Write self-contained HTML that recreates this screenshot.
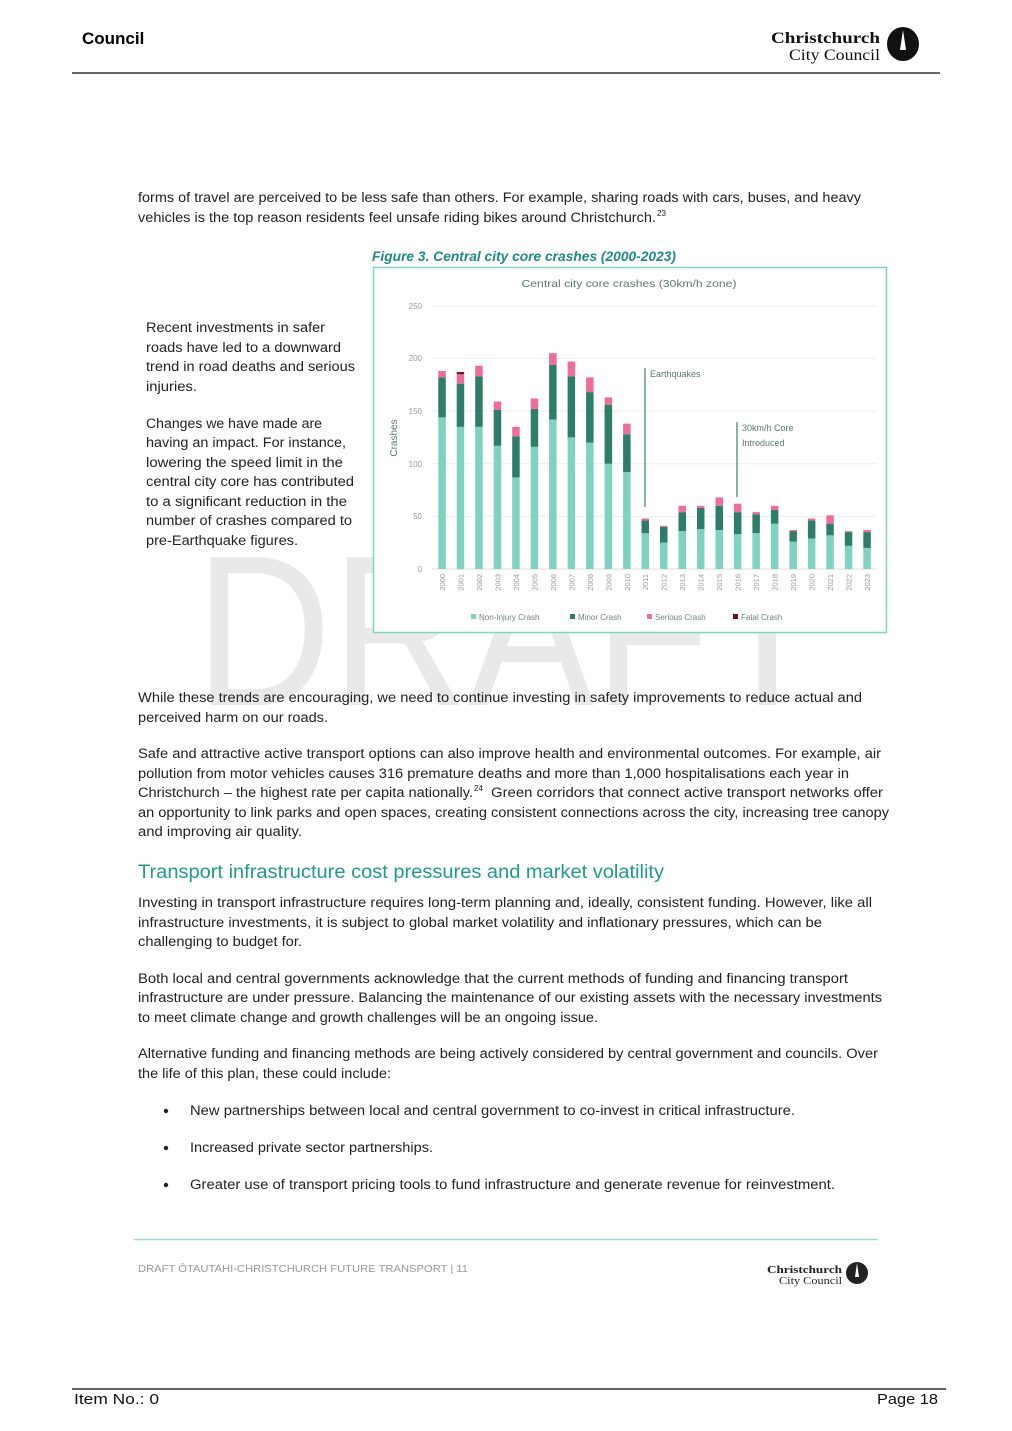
<!DOCTYPE html>
<html><head><meta charset="utf-8"><style>
html,body{margin:0;padding:0;background:#fff;}
svg{display:block;}
text{font-family:"Liberation Sans",sans-serif;}
.b{font-size:13.5px;fill:#222;}
</style></head><body>
<svg width="1012" height="1431" viewBox="0 0 1012 1431" xmlns="http://www.w3.org/2000/svg">
<!-- header -->
<text x="82" y="44" font-size="17" font-weight="bold" fill="#000">Council</text>
<text x="880" y="43" font-size="16" font-weight="bold" style="font-family:'Liberation Serif',serif" text-anchor="end" fill="#111" textLength="109" lengthAdjust="spacingAndGlyphs">Christchurch</text>
<text x="880" y="60" font-size="16" style="font-family:'Liberation Serif',serif" text-anchor="end" fill="#111" textLength="91" lengthAdjust="spacingAndGlyphs">City Council</text>
<ellipse cx="903" cy="44" rx="16" ry="17" fill="#111"/>
<path d="M903 30 L906 50 L900 50 Z" fill="#fff"/>
<line x1="72" y1="73" x2="940" y2="73" stroke="#333" stroke-width="1.5"/>

<!-- watermark -->
<text x="195" y="705" font-size="215" fill="#e9e9e9" textLength="630" lengthAdjust="spacingAndGlyphs">DRAFT</text>

<!-- body text top -->
<text class="b" x="138" y="202" textLength="723" lengthAdjust="spacingAndGlyphs">forms of travel are perceived to be less safe than others. For example, sharing roads with cars, buses, and heavy</text>
<text class="b" x="138" y="222" textLength="518" lengthAdjust="spacingAndGlyphs">vehicles is the top reason residents feel unsafe riding bikes around Christchurch.</text>
<text x="657" y="216" font-size="8" fill="#222">23</text>

<text class="b" x="146" y="332" textLength="179" lengthAdjust="spacingAndGlyphs">Recent investments in safer</text>
<text class="b" x="146" y="352" textLength="195" lengthAdjust="spacingAndGlyphs">roads have led to a downward</text>
<text class="b" x="146" y="371" textLength="209" lengthAdjust="spacingAndGlyphs">trend in road deaths and serious</text>
<text class="b" x="146" y="391" textLength="51" lengthAdjust="spacingAndGlyphs">injuries.</text>
<text class="b" x="146" y="428" textLength="176" lengthAdjust="spacingAndGlyphs">Changes we have made are</text>
<text class="b" x="146" y="447" textLength="200" lengthAdjust="spacingAndGlyphs">having an impact. For instance,</text>
<text class="b" x="146" y="467" textLength="197" lengthAdjust="spacingAndGlyphs">lowering the speed limit in the</text>
<text class="b" x="146" y="486" textLength="208" lengthAdjust="spacingAndGlyphs">central city core has contributed</text>
<text class="b" x="146" y="506" textLength="201" lengthAdjust="spacingAndGlyphs">to a significant reduction in the</text>
<text class="b" x="146" y="525" textLength="206" lengthAdjust="spacingAndGlyphs">number of crashes compared to</text>
<text class="b" x="146" y="545" textLength="152" lengthAdjust="spacingAndGlyphs">pre-Earthquake figures.</text>

<!-- chart -->
<text x="372" y="261" font-size="13.5" font-style="italic" font-weight="bold" fill="#1f8a84" textLength="304" lengthAdjust="spacingAndGlyphs">Figure 3. Central city core crashes (2000-2023)</text>
<rect x="373.5" y="267.5" width="513" height="365" fill="#fff" stroke="#7fd3c9" stroke-width="1.5"/>
<text x="629" y="287" font-size="10.5" fill="#5c7a72" text-anchor="middle" textLength="215" lengthAdjust="spacingAndGlyphs">Central city core crashes (30km/h zone)</text>
<g stroke="#eeeeee" stroke-width="1">
<line x1="432" y1="306" x2="876" y2="306"/>
<line x1="432" y1="358.4" x2="876" y2="358.4"/>
<line x1="432" y1="411" x2="876" y2="411"/>
<line x1="432" y1="463.7" x2="876" y2="463.7"/>
<line x1="432" y1="516.4" x2="876" y2="516.4"/>
<line x1="432" y1="569" x2="876" y2="569" stroke="#ddd"/>
</g>
<g font-size="8" fill="#999" text-anchor="end">
<text x="422" y="309">250</text><text x="422" y="361">200</text><text x="422" y="414">150</text>
<text x="422" y="467">100</text><text x="422" y="519">50</text><text x="422" y="572">0</text>
</g>
<text transform="translate(397,438) rotate(-90)" font-size="10" fill="#5c7a72" text-anchor="middle">Crashes</text>

<g transform="translate(0,569) scale(1,-1.053)">
<g fill="#7fd1c0">
<rect x="438.3" y="0" width="7.5" height="144"/><rect x="456.7" y="0" width="7.5" height="135"/><rect x="475.2" y="0" width="7.5" height="135"/><rect x="493.7" y="0" width="7.5" height="117"/><rect x="512.2" y="0" width="7.5" height="87"/><rect x="530.7" y="0" width="7.5" height="116"/><rect x="549.1" y="0" width="7.5" height="142"/><rect x="567.6" y="0" width="7.5" height="125"/><rect x="586.1" y="0" width="7.5" height="120"/><rect x="604.6" y="0" width="7.5" height="100"/><rect x="623.1" y="0" width="7.5" height="92"/><rect x="641.5" y="0" width="7.5" height="34"/><rect x="660.0" y="0" width="7.5" height="25"/><rect x="678.5" y="0" width="7.5" height="36"/><rect x="697.0" y="0" width="7.5" height="38"/><rect x="715.5" y="0" width="7.5" height="37"/><rect x="733.9" y="0" width="7.5" height="33"/><rect x="752.4" y="0" width="7.5" height="34"/><rect x="770.9" y="0" width="7.5" height="43"/><rect x="789.4" y="0" width="7.5" height="26"/><rect x="807.9" y="0" width="7.5" height="29"/><rect x="826.3" y="0" width="7.5" height="32"/><rect x="844.8" y="0" width="7.5" height="22"/><rect x="863.3" y="0" width="7.5" height="20"/>
</g>
<g fill="#2e7d6b">
<rect x="438.3" y="144" width="7.5" height="38"/><rect x="456.7" y="135" width="7.5" height="41"/><rect x="475.2" y="135" width="7.5" height="48"/><rect x="493.7" y="117" width="7.5" height="34"/><rect x="512.2" y="87" width="7.5" height="39"/><rect x="530.7" y="116" width="7.5" height="36"/><rect x="549.1" y="142" width="7.5" height="52"/><rect x="567.6" y="125" width="7.5" height="58"/><rect x="586.1" y="120" width="7.5" height="48"/><rect x="604.6" y="100" width="7.5" height="56"/><rect x="623.1" y="92" width="7.5" height="36"/><rect x="641.5" y="34" width="7.5" height="12"/><rect x="660.0" y="25" width="7.5" height="15"/><rect x="678.5" y="36" width="7.5" height="18"/><rect x="697.0" y="38" width="7.5" height="20"/><rect x="715.5" y="37" width="7.5" height="23"/><rect x="733.9" y="33" width="7.5" height="21"/><rect x="752.4" y="34" width="7.5" height="18"/><rect x="770.9" y="43" width="7.5" height="13"/><rect x="789.4" y="26" width="7.5" height="10"/><rect x="807.9" y="29" width="7.5" height="17"/><rect x="826.3" y="32" width="7.5" height="11"/><rect x="844.8" y="22" width="7.5" height="13"/><rect x="863.3" y="20" width="7.5" height="15"/>
</g>
<g fill="#f06c9b">
<rect x="438.3" y="182" width="7.5" height="6"/><rect x="456.7" y="176" width="7.5" height="9"/><rect x="475.2" y="183" width="7.5" height="10"/><rect x="493.7" y="151" width="7.5" height="8"/><rect x="512.2" y="126" width="7.5" height="9"/><rect x="530.7" y="152" width="7.5" height="10"/><rect x="549.1" y="194" width="7.5" height="11"/><rect x="567.6" y="183" width="7.5" height="14"/><rect x="586.1" y="168" width="7.5" height="14"/><rect x="604.6" y="156" width="7.5" height="7"/><rect x="623.1" y="128" width="7.5" height="10"/><rect x="641.5" y="46" width="7.5" height="2"/><rect x="660.0" y="40" width="7.5" height="1"/><rect x="678.5" y="54" width="7.5" height="6"/><rect x="697.0" y="58" width="7.5" height="2"/><rect x="715.5" y="60" width="7.5" height="8"/><rect x="733.9" y="54" width="7.5" height="8"/><rect x="752.4" y="52" width="7.5" height="2"/><rect x="770.9" y="56" width="7.5" height="4"/><rect x="789.4" y="36" width="7.5" height="1"/><rect x="807.9" y="46" width="7.5" height="2"/><rect x="826.3" y="43" width="7.5" height="8"/><rect x="844.8" y="35" width="7.5" height="1"/><rect x="863.3" y="35" width="7.5" height="2"/>
</g>
<rect x="456.7" y="185" width="7.5" height="2" fill="#6b0a2a"/>
</g>

<g stroke="#3b7f72" stroke-width="1.2">
<line x1="645" y1="368" x2="645" y2="507"/>
<line x1="737" y1="422" x2="737" y2="497"/>
</g>
<g font-size="9" fill="#5c7a72">
<text x="650" y="377">Earthquakes</text>
<text x="742" y="431">30km/h Core</text>
<text x="742" y="446">Introduced</text>
</g>

<g font-size="7.5" fill="#999" text-anchor="end">
<text transform="translate(445,574) rotate(-90)">2000</text><text transform="translate(463.4,574) rotate(-90)">2001</text><text transform="translate(481.9,574) rotate(-90)">2002</text><text transform="translate(500.4,574) rotate(-90)">2003</text><text transform="translate(518.9,574) rotate(-90)">2004</text><text transform="translate(537.4,574) rotate(-90)">2005</text><text transform="translate(555.8,574) rotate(-90)">2006</text><text transform="translate(574.3,574) rotate(-90)">2007</text><text transform="translate(592.8,574) rotate(-90)">2008</text><text transform="translate(611.3,574) rotate(-90)">2009</text><text transform="translate(629.8,574) rotate(-90)">2010</text><text transform="translate(648.2,574) rotate(-90)">2011</text><text transform="translate(666.7,574) rotate(-90)">2012</text><text transform="translate(685.2,574) rotate(-90)">2013</text><text transform="translate(703.7,574) rotate(-90)">2014</text><text transform="translate(722.2,574) rotate(-90)">2015</text><text transform="translate(740.6,574) rotate(-90)">2016</text><text transform="translate(759.1,574) rotate(-90)">2017</text><text transform="translate(777.6,574) rotate(-90)">2018</text><text transform="translate(796.1,574) rotate(-90)">2019</text><text transform="translate(814.6,574) rotate(-90)">2020</text><text transform="translate(833,574) rotate(-90)">2021</text><text transform="translate(851.5,574) rotate(-90)">2022</text><text transform="translate(870,574) rotate(-90)">2023</text>
</g>
<g font-size="8" fill="#6f8580">
<rect x="471" y="614" width="5" height="5" fill="#7fd1c0"/><text x="479" y="620">Non-Injury Crash</text>
<rect x="570" y="614" width="5" height="5" fill="#2e7d6b"/><text x="578" y="620">Minor Crash</text>
<rect x="647" y="614" width="5" height="5" fill="#f06c9b"/><text x="655" y="620">Serious Crash</text>
<rect x="733" y="614" width="5" height="5" fill="#6b0a2a"/><text x="741" y="620">Fatal Crash</text>
</g>

<!-- body lower -->
<text class="b" x="138" y="702" textLength="724" lengthAdjust="spacingAndGlyphs">While these trends are encouraging, we need to continue investing in safety improvements to reduce actual and</text>
<text class="b" x="138" y="722" textLength="190" lengthAdjust="spacingAndGlyphs">perceived harm on our roads.</text>
<text class="b" x="138" y="758" textLength="743" lengthAdjust="spacingAndGlyphs">Safe and attractive active transport options can also improve health and environmental outcomes. For example, air</text>
<text class="b" x="138" y="778" textLength="711" lengthAdjust="spacingAndGlyphs">pollution from motor vehicles causes 316 premature deaths and more than 1,000 hospitalisations each year in</text>
<text class="b" x="138" y="797" textLength="335" lengthAdjust="spacingAndGlyphs">Christchurch – the highest rate per capita nationally.</text>
<text x="474" y="791" font-size="8" fill="#222">24</text>
<text class="b" x="491" y="797" textLength="392" lengthAdjust="spacingAndGlyphs">Green corridors that connect active transport networks offer</text>
<text class="b" x="138" y="817" textLength="751" lengthAdjust="spacingAndGlyphs">an opportunity to link parks and open spaces, creating consistent connections across the city, increasing tree canopy</text>
<text class="b" x="138" y="836" textLength="164" lengthAdjust="spacingAndGlyphs">and improving air quality.</text>

<text x="138" y="878" font-size="19" fill="#1f9a90" textLength="526" lengthAdjust="spacingAndGlyphs">Transport infrastructure cost pressures and market volatility</text>

<text class="b" x="138" y="907" textLength="734" lengthAdjust="spacingAndGlyphs">Investing in transport infrastructure requires long-term planning and, ideally, consistent funding. However, like all</text>
<text class="b" x="138" y="927" textLength="684" lengthAdjust="spacingAndGlyphs">infrastructure investments, it is subject to global market volatility and inflationary pressures, which can be</text>
<text class="b" x="138" y="946" textLength="164" lengthAdjust="spacingAndGlyphs">challenging to budget for.</text>
<text class="b" x="138" y="983" textLength="710" lengthAdjust="spacingAndGlyphs">Both local and central governments acknowledge that the current methods of funding and financing transport</text>
<text class="b" x="138" y="1002" textLength="744" lengthAdjust="spacingAndGlyphs">infrastructure are under pressure. Balancing the maintenance of our existing assets with the necessary investments</text>
<text class="b" x="138" y="1022" textLength="460" lengthAdjust="spacingAndGlyphs">to meet climate change and growth challenges will be an ongoing issue.</text>
<text class="b" x="138" y="1058" textLength="740" lengthAdjust="spacingAndGlyphs">Alternative funding and financing methods are being actively considered by central government and councils. Over</text>
<text class="b" x="138" y="1078" textLength="253" lengthAdjust="spacingAndGlyphs">the life of this plan, these could include:</text>

<circle cx="166" cy="1111" r="2.2" fill="#222"/>
<text class="b" x="190" y="1115" textLength="605" lengthAdjust="spacingAndGlyphs">New partnerships between local and central government to co-invest in critical infrastructure.</text>
<circle cx="166" cy="1148" r="2.2" fill="#222"/>
<text class="b" x="190" y="1152" textLength="243" lengthAdjust="spacingAndGlyphs">Increased private sector partnerships.</text>
<circle cx="166" cy="1185" r="2.2" fill="#222"/>
<text class="b" x="190" y="1189" textLength="645" lengthAdjust="spacingAndGlyphs">Greater use of transport pricing tools to fund infrastructure and generate revenue for reinvestment.</text>

<!-- footer -->
<line x1="134" y1="1239.5" x2="878" y2="1239.5" stroke="#9fdcd2" stroke-width="1.5"/>
<text x="138" y="1272" font-size="10.5" fill="#999" textLength="330" lengthAdjust="spacingAndGlyphs">DRAFT  ŌTAUTAHI-CHRISTCHURCH FUTURE TRANSPORT | 11</text>
<text x="842" y="1273" font-size="11" font-weight="bold" style="font-family:'Liberation Serif',serif" text-anchor="end" fill="#222" textLength="75" lengthAdjust="spacingAndGlyphs">Christchurch</text>
<text x="842" y="1284" font-size="11" style="font-family:'Liberation Serif',serif" text-anchor="end" fill="#222" textLength="63" lengthAdjust="spacingAndGlyphs">City Council</text>
<ellipse cx="857" cy="1273" rx="11" ry="11" fill="#222"/>
<path d="M857 1263 L859 1277 L855 1277 Z" fill="#fff"/>

<line x1="72" y1="1389" x2="946" y2="1389" stroke="#333" stroke-width="1.5"/>
<text x="74" y="1404" font-size="15" fill="#111" textLength="85" lengthAdjust="spacingAndGlyphs">Item No.: 0</text>
<text x="938" y="1404" font-size="15" fill="#111" text-anchor="end" textLength="61" lengthAdjust="spacingAndGlyphs">Page 18</text>
</svg>
</body></html>
